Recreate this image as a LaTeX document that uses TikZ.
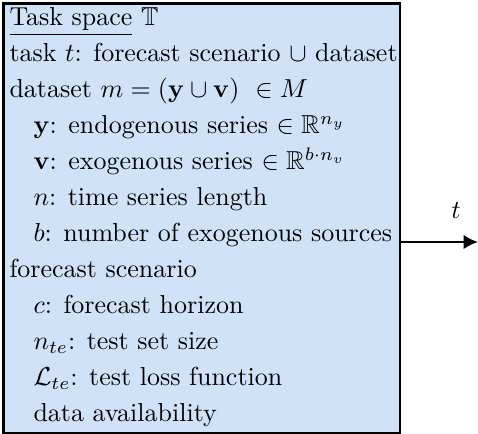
\documentclass[tikz,border=0pt]{standalone}
\usepackage{amsmath,amssymb}
\usetikzlibrary{arrows.meta}
\definecolor{boxblue}{RGB}{207,226,247}
\begin{document}
\begin{tikzpicture}[x=0.385pt,y=-0.385pt,
  line/.style={anchor=base west,inner sep=0pt},
  frame/.style={draw=black,fill=boxblue,line width=0.8pt}]
\useasboundingbox (0,0) rectangle (478,434);
\path[frame] (3.5,3.5) rectangle (400,433);
\coordinate (boxE) at (400,0);
\node[line] (l1) at (9,26) {\underline{Task space} $\mathbb{T}$};
\node[line] (l2) at (9,62) {task $t$: forecast scenario $\cup$ dataset};
\node[line] (l3) at (9,98) {dataset $m = (\mathbf{y} \cup \mathbf{v})\ \in M$};
\node[line] (l4) at (33,134) {$\mathbf{y}$: endogenous series $\in \mathbb{R}^{n_y}$};
\node[line] (l5) at (33,170) {$\mathbf{v}$: exogenous series $\in \mathbb{R}^{b\cdot n_v}$};
\node[line] (l6) at (33,206) {$n$: time series length};
\node[line] (l7) at (33,242) {$b$: number of exogenous sources};
\node[line] (l8) at (9,278) {forecast scenario};
\node[line] (l9) at (33,314) {$c$: forecast horizon};
\node[line] (l10) at (33,350) {$n_{te}$: test set size};
\node[line] (l11) at (33,386) {$\mathcal{L}_{te}$: test loss function};
\node[line] (l12) at (33,422) {data availability};
\coordinate (aend) at (478,242);
\node[inner sep=0pt] (tl) at (456,211) {$t$};
\draw[line width=0.8pt,-{Latex[length=5.5pt,width=5.5pt]}] (boxE |- aend) -- (aend);
\end{tikzpicture}
\end{document}
